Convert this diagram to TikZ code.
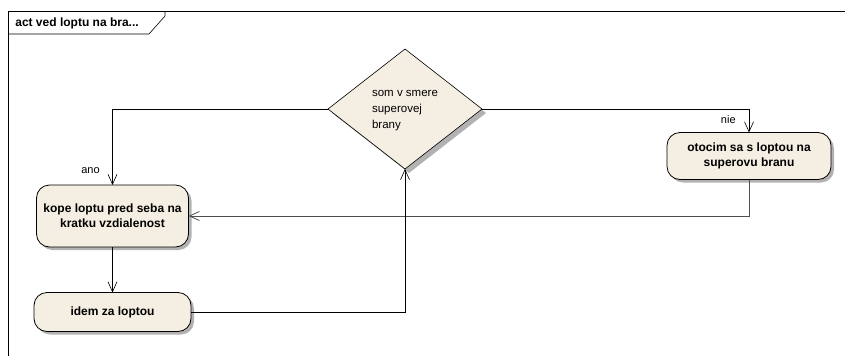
\documentclass[tikz,border=0pt]{standalone}
\usepackage{fontspec}
\setmainfont{Liberation Sans}
\usetikzlibrary{positioning}
\usetikzlibrary{shapes.geometric}
\usetikzlibrary{shadows}
\usetikzlibrary{arrows.meta}
\definecolor{actfill}{RGB}{245,238,226}
\definecolor{flowgray}{RGB}{80,80,80}
\tikzset{
	every node/.style={align=center,outer sep=0pt},
	every path/.style={semithick},
	action/.style={draw,thick,fill=actfill,rounded corners=13pt,inner sep=2pt,
		font=\fontsize{12}{15}\selectfont\bfseries,
		drop shadow={shadow xshift=3pt,shadow yshift=-3pt,fill=black!30,opacity=1}},
	decision/.style={draw,fill=actfill,diamond,inner sep=0pt,
		minimum width=154pt,minimum height=120pt,
		font=\fontsize{11.5}{16}\selectfont,
		drop shadow={shadow xshift=4pt,shadow yshift=-4pt,fill=black!30,opacity=1}},
	flow/.style={-{Straight Barb[length=10pt,width=9pt]}},
	lbl/.style={font=\fontsize{11}{13}\selectfont},
}

\begin{document}
\begin{tikzpicture}[x=1pt,y=-1pt]
	\useasboundingbox (0,0) rectangle (845,356);
	
	% frame.....................
	\draw (8,356) -- (8,11) -- (845,11);
	\draw (8,34) -- (149,34) -- (165,16) -- (165,11);
	\node [anchor=west,font=\fontsize{12}{14}\selectfont\bfseries] (frametitle) at (12,23) {act ved loptu na bra...};
	
	% actions...................
	\node [action,minimum width=152pt,minimum height=62pt] (kope) at (112.5,216) {kope loptu pred seba na\\kratku vzdialenost};
	\node [action,minimum width=157pt,minimum height=39pt] (idem) at (112.5,312) {idem za loptou};
	\node [action,minimum width=164pt,minimum height=47pt] (otocim) at (749,156) {otocim sa s loptou na\\superovu branu};
	
	% decision..................
	\node [decision] (smer) at (405,109) {\begin{tabular}{@{}l@{}}som v smere\\superovej\\brany\end{tabular}};
	
	% flows.....................
	\draw [flow] (smer.west) -| (kope.north);
	\node [lbl,anchor=east] (ano) at (103,171) {ano};
	
	\draw [flow] (smer.east) -| (otocim.north);
	\node [lbl,anchor=east] (nie) at (739,120) {nie};
	
	\draw [flow,flowgray,thick] (otocim.south) |- (kope.east);
	\draw [flow] (kope.south) -- (idem.north);
	\draw [flow] (idem.east) -| (smer.south);
	
\end{tikzpicture}
\end{document}
